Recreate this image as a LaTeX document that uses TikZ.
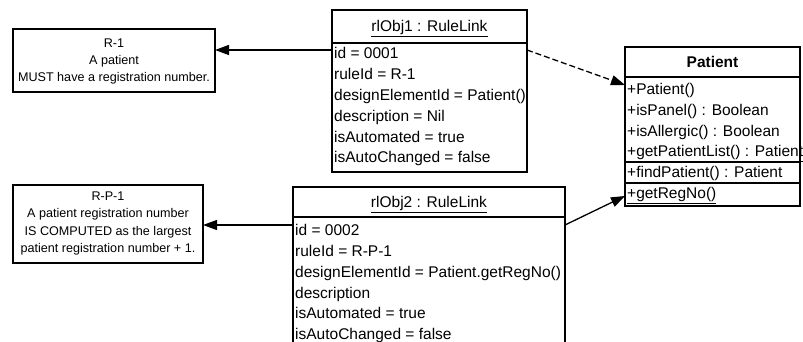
\documentclass[tikz,border=0pt]{standalone}
\usepackage{fontspec}
\setmainfont{Liberation Sans}
\usetikzlibrary{arrows.meta,calc}
\begin{document}
\begin{tikzpicture}[x=1pt,y=-1pt,
  box/.style={draw=black,line width=1.4pt,rectangle,inner sep=0pt,outer sep=0pt,anchor=north west},
  attr/.style={anchor=base west,inner sep=0pt,font=\fontsize{15.5}{20}\selectfont},
  head/.style={anchor=base,inner sep=0pt,font=\fontsize{15.5}{20}\selectfont},
  note/.style={anchor=base,inner sep=0pt,font=\fontsize{12.6}{17}\selectfont},
  conn/.style={draw=black,line width=1.3pt,-{Triangle[length=14pt,width=10pt]}},
  sep/.style={draw=black,line width=1.4pt}]
\useasboundingbox[fill=white] (0,0) rectangle (803,342);

% boxes
\node[box,minimum width=202pt,minimum height=63pt] (r1) at (13,29) {};
\node[box,minimum width=190pt,minimum height=78pt] (rp1) at (13,185) {};
\node[box,minimum width=195pt,minimum height=162pt] (rl1) at (332,10) {};
\node[box,minimum width=272pt,minimum height=180pt] (rl2) at (293,187) {};
\node[box,minimum width=175pt,minimum height=159pt] (pat) at (625,47) {};

% compartment lines
\draw[sep] ([yshift=-33pt]rl1.north west) -- ([yshift=-33pt]rl1.north east);
\draw[sep] ([yshift=-30pt]rl2.north west) -- ([yshift=-30pt]rl2.north east);
\draw[sep] ([yshift=-30pt]pat.north west) -- ([yshift=-30pt]pat.north east);
\draw[sep] ([yshift=-115pt]pat.north west) -- ([yshift=-115pt]pat.north east);
\draw[sep] ([yshift=-136pt]pat.north west) -- ([yshift=-136pt]pat.north east);

% note R-1
\node[note] (r1a) at (114,47.5) {R-1};
\node[note] (r1b) at (114,64.5) {A patient};
\node[note] (r1c) at (114,82) {MUST have a registration number.};

% note R-P-1
\node[note] (rp1a) at (108,200.5) {R-P-1};
\node[note] (rp1b) at (108,217.5) {A patient registration number};
\node[note] (rp1c) at (108,235) {IS COMPUTED as the largest};
\node[note] (rp1d) at (108,252.5) {patient registration number + 1.};

% rlObj1
\node[head] (rl1h) at (429.5,31.5) {\underline{rlObj1 : RuleLink}};
\node[attr] (rl1a) at (334,59) {id = 0001};
\node[attr] (rl1b) at (334,80) {ruleId = R-1};
\node[attr] (rl1c) at (334,101) {designElementId = Patient()};
\node[attr] (rl1d) at (334,122) {description = Nil};
\node[attr] (rl1e) at (334,142.5) {isAutomated = true};
\node[attr] (rl1f) at (334,163) {isAutoChanged = false};

% rlObj2
\node[head] (rl2h) at (429,207.5) {\underline{rlObj2 : RuleLink}};
\node[attr] (rl2a) at (295,235.5) {id = 0002};
\node[attr] (rl2b) at (295,256.5) {ruleId = R-P-1};
\node[attr] (rl2c) at (295,277.5) {designElementId = Patient.getRegNo()};
\node[attr] (rl2d) at (295,298) {description};
\node[attr] (rl2e) at (295,318.5) {isAutomated = true};
\node[attr] (rl2f) at (295,339) {isAutoChanged = false};

% Patient
\node[head,font=\fontsize{15.5}{20}\selectfont\bfseries] (path) at (712.5,67.5) {Patient};
\node[attr] (pa) at (627,94.5) {+Patient()};
\node[attr] (pb) at (627,115.5) {+isPanel() : Boolean};
\node[attr] (pc) at (627,136.5) {+isAllergic() : Boolean};
\node[attr] (pd) at (627,156.5) {\underline{+getPatientList() : Patient}};
\node[attr] (pe) at (627,177.5) {\underline{+findPatient() : Patient}};
\node[attr] (pf) at (627,198.5) {\underline{+getRegNo()}};

% connectors
\coordinate (c1) at (332,50);
\coordinate (c2) at (293,225);
\draw[conn] (c1) -- (r1.east |- c1);
\draw[conn] (c2) -- (rp1.east |- c2);
\draw[conn,dash pattern=on 6pt off 3pt] ([yshift=-40pt]rl1.north east) -- ([yshift=-38pt]pat.north west);
\draw[conn] ([yshift=-38pt]rl2.north east) -- ([yshift=-149pt]pat.north west);
\end{tikzpicture}
\end{document}
